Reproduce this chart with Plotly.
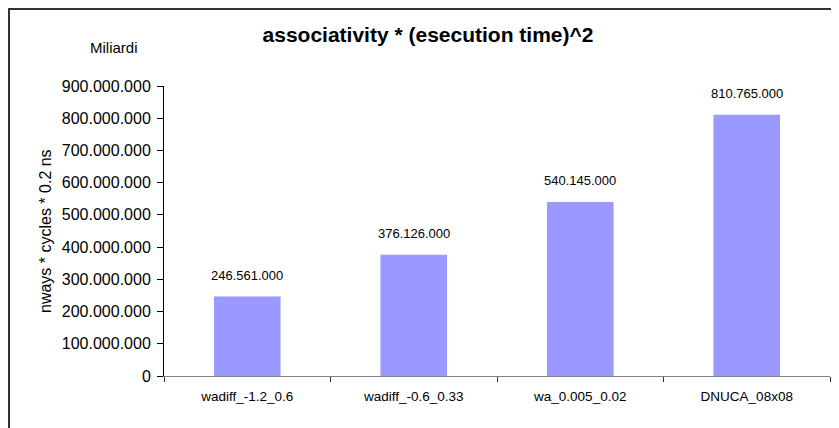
import plotly.graph_objects as go

# values
configs = ['wadiff_-1.2_0.6', 'wadiff_-0.6_0.33', 'wa_0.005_0.02', 'DNUCA_08x08']
values = [246561000, 376126000, 540145000, 810765000]
y_ticks = [0, 100000000, 200000000, 300000000, 400000000,
           500000000, 600000000, 700000000, 800000000, 900000000]

# the page body has an 8px margin, so work in page pixels and shift
OFF = 8
W, H = 839 - OFF, 428 - OFF
L, R, T, B = 164 - OFF, 9 - OFF + 8, 86 - OFF, 52
pw, ph = W - L - R, H - T - B

def px(x):
    return (x - OFF - L) / pw

def py(y):
    return (H - B - (y - OFF)) / ph

fig = go.Figure()

fig.add_trace(go.Bar(
    x=configs,
    y=values,
    marker=dict(color='#9999ff', line=dict(width=0)),
    width=0.4,
    hoverinfo='x+y',
))

annotations = []
for c, v in zip(configs, values):
    annotations.append(dict(
        x=c, y=v, xref='x', yref='y',
        text=f'{v:,}'.replace(',', '.'),
        showarrow=False, yanchor='bottom', yshift=12,
        font=dict(size=13, color='#000'),
    ))

annotations.append(dict(
    x=px(45), y=0.5, xref='paper', yref='paper',
    text='nways * cycles * 0.2 ns', textangle=-90,
    xanchor='center', yanchor='middle',
    showarrow=False, font=dict(size=16, color='#000'),
))
annotations.append(dict(
    x=px(114), y=py(47), xref='paper', yref='paper',
    text='Miliardi', showarrow=False,
    xanchor='center', yanchor='middle',
    font=dict(size=15, color='#000'),
))

fig.update_layout(
    width=W, height=H,
    margin=dict(l=L, r=R, t=T, b=B, autoexpand=False),
    paper_bgcolor='white', plot_bgcolor='white',
    font=dict(family='Liberation Sans, Arial, sans-serif', color='#000'),
    separators=',.',
    title=dict(
        text='<b>associativity * (esecution time)^2</b>',
        x=(428 - OFF) / W, y=1 - (35 - OFF) / H,
        xanchor='center', yanchor='middle',
        xref='container', yref='container',
        font=dict(size=21, color='#000'),
    ),
    showlegend=False,
    annotations=annotations,
    shapes=[dict(
        type='rect', xref='paper', yref='paper',
        x0=px(9), x1=px(880), y0=py(460), y1=py(9),
        line=dict(color='#333', width=2), layer='below',
    )],
    xaxis=dict(
        showline=True, linecolor='#808080', linewidth=1,
        ticks='outside', tickson='boundaries', ticklen=5, tickcolor='#333',
        tickfont=dict(size=13.5, color='#000'),
        ticklabelstandoff=8,
        showgrid=False, zeroline=False,
    ),
    yaxis=dict(
        range=[0, 900000000],
        tickvals=y_ticks, tickformat=',.0f',
        showline=True, linecolor='#000', linewidth=1,
        ticks='outside', ticklen=6, tickcolor='#000',
        tickfont=dict(size=16, color='#000'),
        ticklabelstandoff=3,
        showgrid=False, zeroline=False,
    ),
)

fig.write_html('out.html')
